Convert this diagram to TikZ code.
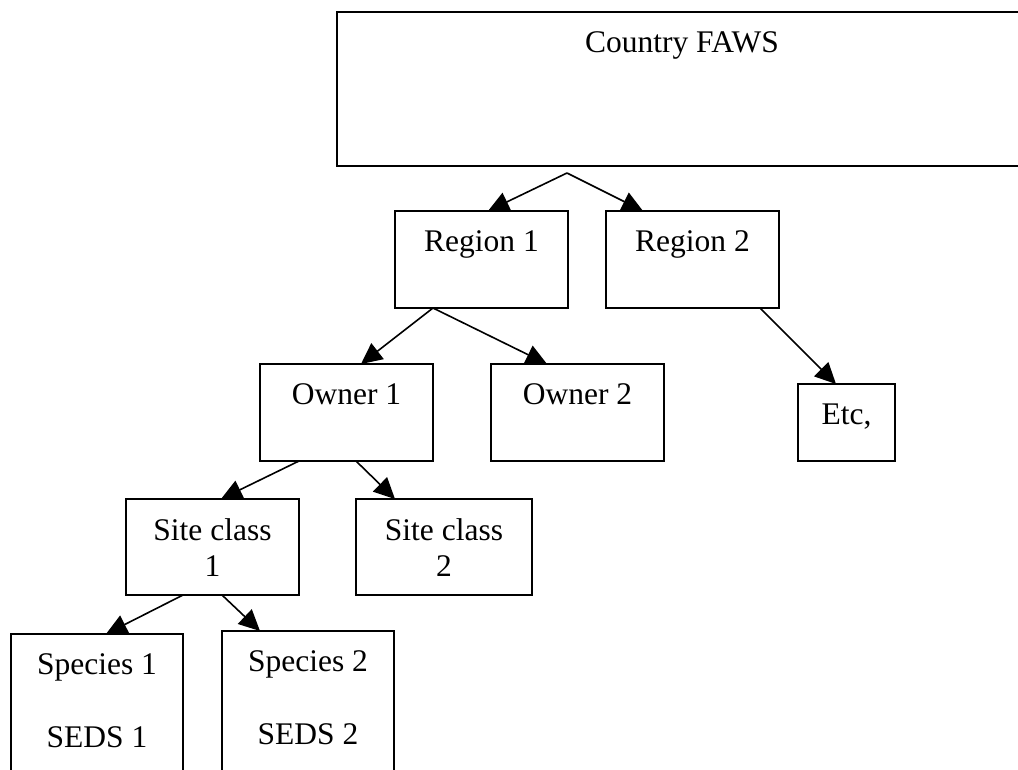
\documentclass[tikz,border=0pt]{standalone}
\usepackage{fontspec}
\setmainfont{Liberation Serif}
\usetikzlibrary{arrows.meta,calc}
\tikzset{
  box/.style={draw=black, line width=2pt, fill=white, rectangle, inner sep=0pt, outer sep=0pt, anchor=north west},
  lbl/.style={inner sep=0pt, outer sep=0pt, anchor=north, align=center, font=\fontsize{31.5}{36.5}\selectfont},
  conn/.style={line width=1.6pt, -{Triangle[length=21pt,width=20pt]}}
}
\begin{document}
\begin{tikzpicture}[x=1pt,y=-1pt]
\useasboundingbox (0,0) rectangle (1018,769);
\clip (0,0) rectangle (1018,769);
% boxes
\node[box, minimum width=690pt, minimum height=154pt] (c) at (337,12) {};
\node[box, minimum width=173pt, minimum height=97pt] (r1) at (395,211) {};
\node[box, minimum width=173pt, minimum height=97pt] (r2) at (606,211) {};
\node[box, minimum width=173pt, minimum height=97pt] (o1) at (260,364) {};
\node[box, minimum width=173pt, minimum height=97pt] (o2) at (491,364) {};
\node[box, minimum width=97pt, minimum height=77pt] (etc) at (798,384) {};
\node[box, minimum width=173pt, minimum height=96pt] (s1) at (126,499) {};
\node[box, minimum width=176pt, minimum height=96pt] (s2) at (356,499) {};
\node[box, minimum width=172pt, minimum height=170pt] (sp1) at (11,634) {};
\node[box, minimum width=172pt, minimum height=170pt] (sp2) at (222,631) {};
% labels
\node[lbl] (ct) at ($(c.north)+(0,19.5)$) {Country FAWS};
\node[lbl] (r1t) at ($(r1.north)+(0,19.5)$) {Region 1};
\node[lbl] (r2t) at ($(r2.north)+(0,19.5)$) {Region 2};
\node[lbl] (o1t) at ($(o1.north)+(0,19.5)$) {Owner 1};
\node[lbl] (o2t) at ($(o2.north)+(0,19.5)$) {Owner 2};
\node[lbl] (etct) at ($(etc.north)+(0,19.5)$) {Etc,};
\node[lbl] (s1t) at ($(s1.north)+(0,19.5)$) {Site class\\1};
\node[lbl] (s2t) at ($(s2.north)+(0,19.5)$) {Site class\\2};
\node[lbl] (sp1t) at ($(sp1.north)+(0,19.5)$) {Species 1\\[36.5pt]SEDS 1};
\node[lbl] (sp2t) at ($(sp2.north)+(0,19.5)$) {Species 2\\[36.5pt]SEDS 2};
% connectors
\coordinate (cj) at ($(c.south west)+(230,7)$);
\draw[conn] (cj) -- ($(r1.north west)+(93,0)$);
\draw[conn] (cj) -- ($(r2.north west)+(37,0)$);
\draw[conn] ($(r1.south west)+(38,0)$) -- ($(o1.north west)+(101,0)$);
\draw[conn] ($(r1.south west)+(38,0)$) -- ($(o2.north west)+(56,0)$);
\draw[conn] ($(r2.south west)+(154,0)$) -- ($(etc.north west)+(38,0)$);
\draw[conn] ($(o1.south west)+(39,0)$) -- ($(s1.north west)+(95,0)$);
\draw[conn] ($(o1.south west)+(96,0)$) -- ($(s2.north west)+(39,0)$);
\draw[conn] ($(s1.south west)+(57,0)$) -- ($(sp1.north west)+(95,0)$);
\draw[conn] ($(s1.south west)+(96,0)$) -- ($(sp2.north west)+(38,0)$);
\end{tikzpicture}
\end{document}
